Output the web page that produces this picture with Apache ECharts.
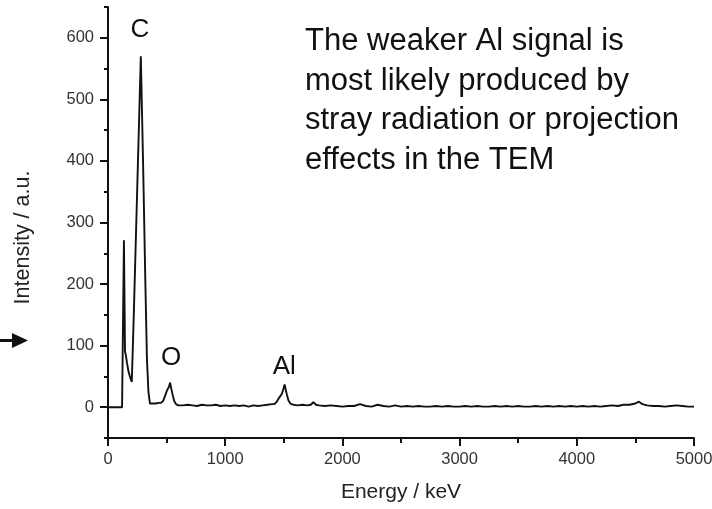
<!DOCTYPE html>
<html>
<head>
<meta charset="utf-8">
<script src="https://cdn.jsdelivr.net/npm/echarts@6/dist/echarts.min.js"></script>
<style>
  html, body { margin: 0; padding: 0; background: #fff; }
  #chart { width: 712px; height: 509px; }
</style>
</head>
<body>
<div id="chart"></div>
<script>
// EDX spectrum: energy (keV) and intensity (a.u.)
const energies = [
  0, 60, 120, 126, 136, 145, 152, 162, 175, 190, 203, 220, 240, 260, 280, 300, 318, 332, 345, 358,
  370, 390, 410, 430, 450, 470, 490, 505, 520, 530, 540, 552, 565, 580, 600,
  640, 680, 720, 760, 800, 840, 880, 920, 960, 1000, 1040, 1080, 1120, 1160, 1200, 1240, 1280, 1320, 1360, 1400,
  1420, 1440, 1456, 1470, 1484, 1497, 1507, 1517, 1527, 1540, 1556, 1580, 1620, 1660, 1700, 1730, 1752, 1775, 1800,
  1850, 1900, 1950, 2000, 2050, 2100, 2150, 2200, 2250, 2300, 2350, 2400, 2450, 2500, 2550, 2600, 2650, 2700, 2750, 2800,
  2850, 2900, 2950, 3000, 3050, 3100, 3150, 3200, 3250, 3300, 3350, 3400, 3450, 3500, 3550, 3600, 3650, 3700, 3750, 3800,
  3850, 3900, 3950, 4000, 4050, 4100, 4150, 4200, 4250, 4300, 4350, 4400,
  4450, 4500, 4530, 4560, 4600, 4650, 4700, 4750, 4800, 4850, 4900, 4950, 5000
];
const intensities = [
  0, 0, 0, 0, 271, 90, 85, 72, 58, 48, 41, 150, 290, 430, 570, 390, 210, 80, 25, 6,
  4, 6, 6, 7, 7, 10, 20, 28, 33, 40, 30, 20, 10, 5, 3,
  3, 4, 3, 2, 4, 3, 3, 4, 2, 3, 2, 3, 2, 3, 1, 3, 2, 3, 4, 5,
  5, 9, 14, 18, 22, 30, 37, 28, 20, 11, 6, 4, 3, 4, 3, 4, 8, 4, 3,
  2, 3, 2, 1, 2, 2, 5, 2, 1, 4, 2, 1, 3, 1, 2, 1, 2, 1, 1, 2,
  1, 2, 1, 1, 2, 1, 2, 1, 1, 2, 1, 2, 1, 2, 1, 1, 2, 1, 2, 1,
  2, 1, 2, 1, 2, 1, 2, 1, 2, 3, 2, 4,
  4, 6, 9, 5, 3, 2, 2, 1, 2, 3, 2, 1, 1
];

// Axis ticks
const xMajorTicks = [0, 1000, 2000, 3000, 4000, 5000];
const xMinorTicks = [500, 1500, 2500, 3500, 4500];
const yMajorTicks = [0, 100, 200, 300, 400, 500, 600];
const yMinorTicks = [-50, 50, 150, 250, 350, 450, 550, 650];

// Element peak labels: [name, energy, intensity]
const peakLabels = [
  ['C', 273, 613],
  ['O', 538, 81],
  ['Al', 1504, 65]
];

const noteLines = [
  'The weaker Al signal is',
  'most likely produced by',
  'stray radiation or projection',
  'effects in the TEM'
];

const FONT = '"Liberation Sans", Arial, Helvetica, sans-serif';
const spectrum = energies.map((e, i) => [e, intensities[i]]);
const plain = v => String(v);

const chart = echarts.init(document.getElementById('chart'), null, { renderer: 'canvas' });

const axisLineStyle = { color: '#111', width: 2 };
const tickStyle = { color: '#111', width: 2 };

chart.setOption({
  animation: false,
  backgroundColor: '#fff',
  grid: { left: 108, right: 18, top: 7, bottom: 71, containLabel: false, outerBoundsMode: 'none' },
  xAxis: [
    {
      type: 'value', min: 0, max: 5000,
      name: 'Energy / keV', nameLocation: 'middle', nameGap: 44,
      nameTextStyle: { fontFamily: FONT, fontSize: 21, color: '#222' },
      axisLine: { onZero: false, lineStyle: axisLineStyle },
      axisTick: { customValues: xMajorTicks, length: 8, lineStyle: tickStyle },
      axisLabel: { customValues: xMajorTicks, formatter: plain, fontFamily: FONT, fontSize: 16.5, color: '#333', margin: 13 },
      splitLine: { show: false }
    },
    {
      type: 'value', min: 0, max: 5000, position: 'bottom',
      axisLine: { show: false, onZero: false },
      axisTick: { customValues: xMinorTicks, length: 5, lineStyle: tickStyle },
      axisLabel: { show: false },
      splitLine: { show: false }
    }
  ],
  yAxis: [
    {
      type: 'value', min: -50, max: 650,
      name: 'Intensity / a.u.', nameLocation: 'middle', nameGap: 74, nameRotate: 90,
      nameTextStyle: { fontFamily: FONT, fontSize: 21.5, color: '#222', padding: [0, 30, 0, 0] },
      axisLine: { onZero: false, lineStyle: axisLineStyle },
      axisTick: { customValues: yMajorTicks, length: 8, lineStyle: tickStyle },
      axisLabel: { customValues: yMajorTicks, formatter: plain, fontFamily: FONT, fontSize: 16.5, color: '#333', margin: 14 },
      splitLine: { show: false }
    },
    {
      type: 'value', min: -50, max: 650, position: 'left',
      axisLine: { show: false, onZero: false },
      axisTick: { customValues: yMinorTicks, length: 4, lineStyle: tickStyle },
      axisLabel: { show: false },
      splitLine: { show: false }
    }
  ],
  series: [
    {
      type: 'line',
      data: spectrum,
      showSymbol: false,
      lineStyle: { color: '#111', width: 1.9 },
      markPoint: {
        symbol: 'circle', symbolSize: 0,
        label: { show: true, position: 'inside', fontFamily: FONT, fontSize: 26, color: '#111', formatter: p => p.name },
        data: peakLabels.map(([n, e, v]) => ({ name: n, coord: [e, v] }))
      }
    }
  ],
  graphic: [
    {
      type: 'text', left: 305, top: 22,
      style: {
        text: noteLines.join('\n'),
        font: '31px ' + FONT,
        fill: '#111',
        lineHeight: 39.5
      }
    },
    {
      type: 'group', left: 0, top: 333,
      children: [
        { type: 'rect', shape: { x: 0, y: 6, width: 15, height: 3 }, style: { fill: '#111' } },
        { type: 'polygon', shape: { points: [[12, 0], [28, 7.5], [12, 15]] }, style: { fill: '#111' } }
      ]
    }
  ]
});
</script>
</body>
</html>
